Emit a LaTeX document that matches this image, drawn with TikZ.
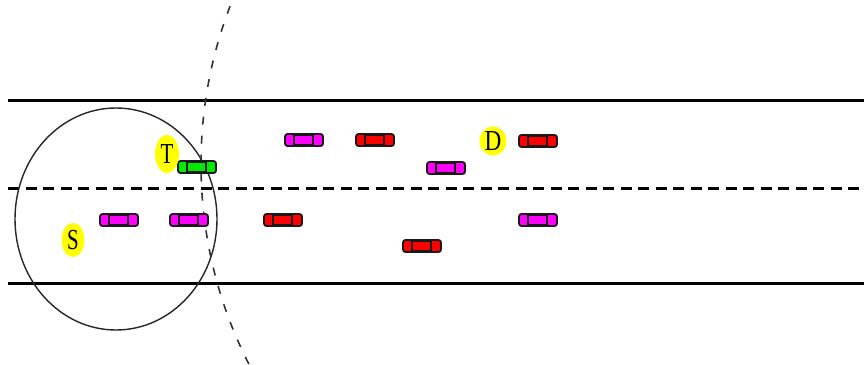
\documentclass[tikz,border=0pt]{standalone}
\usepackage{fontspec}
\setmainfont{Liberation Serif}
\usetikzlibrary{shapes.geometric}
\definecolor{carmagenta}{RGB}{255,0,255}
\definecolor{carred}{RGB}{255,0,0}
\definecolor{cargreen}{RGB}{0,235,0}
\definecolor{tagyellow}{RGB}{255,255,0}
\begin{document}
\begin{tikzpicture}[x=1pt,y=-1pt,
  roadline/.style={line width=3pt,black},
  laneline/.style={line width=3pt,black,dash pattern=on 11pt off 6.5pt},
  srcrange/.style={line width=1.4pt,black!85},
  farrange/.style={line width=1.6pt,black!80,dash pattern=on 8pt off 11pt},
  tag/.style={ellipse,fill=tagyellow,inner sep=0pt,
    font=\fontsize{29}{29}\selectfont},
  car/.pic={
    \draw[line width=1.8pt,draw=black!90,fill=#1,rounded corners=2.5pt]
      (-19,-6) rectangle (19,6);
    \draw[line width=1.8pt,draw=black!90,fill=#1] (-10,-5) rectangle (9,5);
  }]
  \useasboundingbox[fill=white] (0,0) rectangle (864,364);

  % road edges and lane divider
  \draw[roadline] (8,100) -- (864,100);
  \draw[roadline] (8,283) -- (864,283);
  \draw[laneline] (8,188) -- (864,188);

  % transmission range of S
  \draw[srcrange] (116,219) ellipse [x radius=101, y radius=111];

  % transmission range boundary of the far node
  \begin{scope}
    \clip (0,0) rectangle (864,364);
    \draw[farrange] (642,164) circle [radius=441];
  \end{scope}

  % vehicles
  \pic (v1) at (304,140) {car=carmagenta};
  \pic (v2) at (375,140) {car=carred};
  \pic (v3) at (446,168) {car=carmagenta};
  \pic (v4) at (538,141) {car=carred};
  \pic (v5) at (197,167) {car=cargreen};
  \pic (v6) at (119,220) {car=carmagenta};
  \pic (v7) at (189,220) {car=carmagenta};
  \pic (v8) at (283,220) {car=carred};
  \pic (v9) at (422,246) {car=carred};
  \pic (v10) at (538,220) {car=carmagenta};

  % node labels
  \node[tag,minimum width=24pt,minimum height=38pt] (T) at (167,154) {\scalebox{0.72}[1]{T}};
  \node[tag,minimum width=27pt,minimum height=29pt] (D) at (493,141) {\scalebox{0.8}[1]{D}};
  \node[tag,minimum width=23pt,minimum height=34pt] (S) at (73,240) {\scalebox{0.72}[1]{S}};
\end{tikzpicture}
\end{document}
